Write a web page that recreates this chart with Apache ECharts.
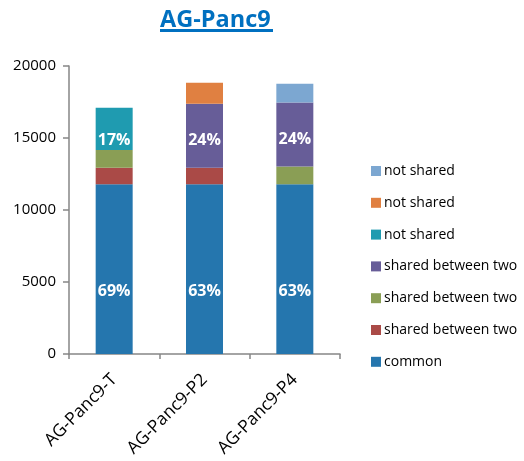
<!DOCTYPE html>
<html>
<head>
<meta charset="utf-8">
<style>
  html, body { margin: 0; padding: 0; background: #fff; }
  #chart { width: 524px; height: 461px; }
</style>
<script src="https://cdn.jsdelivr.net/npm/echarts@6/dist/echarts.min.js"></script>
</head>
<body>
<div id="chart"></div>
<script>
// Samples and the overlap breakdown of their variant counts
const categories = ['AG-Panc9-T', 'AG-Panc9-P2', 'AG-Panc9-P4'];

const common         = [11785, 11785, 11785];
const sharedTP2      = [1150, 1150, 0];
const sharedTP4      = [1240, 0, 1240];
const sharedP2P4     = [0, 4445, 4445];
const notSharedT     = [2920, 0, 0];
const notSharedP2    = [0, 1460, 0];
const notSharedP4    = [0, 0, 1300];

const yTicks = [0, 5000, 10000, 15000, 20000];

// Series in stacking order (bottom to top)
const seriesDefs = [
  { key: 'common', label: 'common', data: common, color: '#2576ae', showPct: true, offset: [0, 22] },
  { key: 'sTP2', label: 'shared between two', data: sharedTP2, color: '#aa4a47', showPct: false },
  { key: 'sTP4', label: 'shared between two', data: sharedTP4, color: '#8a9e55', showPct: false },
  { key: 'sP2P4', label: 'shared between two', data: sharedP2P4, color: '#675d98', showPct: true, offset: [0, 5] },
  { key: 'nT', label: 'not shared', data: notSharedT, color: '#1f9bb0', showPct: true, offset: [0, 12] },
  { key: 'nP2', label: 'not shared', data: notSharedP2, color: '#e08041', showPct: false },
  { key: 'nP4', label: 'not shared', data: notSharedP4, color: '#7ca7d1', showPct: false }
];

const totals = categories.map((_, i) =>
  seriesDefs.reduce((s, d) => s + d.data[i], 0));

const labelOf = {};
seriesDefs.forEach(d => { labelOf[d.key] = d.label; });

const FONT = '"Open Sans", "Noto Sans", sans-serif';

const series = seriesDefs.map(d => ({
  name: d.key,
  type: 'bar',
  stack: 'total',
  barWidth: 37,
  itemStyle: { color: d.color },
  data: d.data.map(v => (v === 0 ? '-' : v)),
  label: {
    show: d.showPct,
    position: 'inside',
    offset: d.offset || [0, 0],
    color: '#fff',
    fontFamily: FONT,
    fontWeight: 'bold',
    fontSize: 16,
    formatter: p => Math.round(p.value / totals[p.dataIndex] * 100) + '%'
  }
}));

const chart = echarts.init(document.getElementById('chart'), null, { renderer: 'canvas' });

chart.setOption({
  animation: false,
  backgroundColor: '#fff',
  title: {
    text: 'AG-Panc9',
    left: 155,
    top: 3,
    textStyle: { color: '#0070c0', fontFamily: FONT, fontWeight: 'bold', fontSize: 23.5 }
  },
  graphic: [{
    type: 'line',
    shape: { x1: 160, y1: 30.5, x2: 273, y2: 30.5 },
    style: { stroke: '#0070c0', lineWidth: 3 }
  }],
  legend: {
    orient: 'vertical',
    left: 371,
    top: 164,
    padding: 0,
    itemWidth: 10,
    itemHeight: 10,
    itemGap: 17.8,
    icon: 'rect',
    data: seriesDefs.map(d => d.key).reverse(),
    formatter: name => labelOf[name],
    textStyle: { color: '#000', fontFamily: FONT, fontSize: 14, lineHeight: 14, padding: [0, 0, 0, -2] }
  },
  grid: { left: 69, right: 184, top: 66, bottom: 107, containLabel: false },
  xAxis: {
    type: 'category',
    data: categories,
    axisLine: { lineStyle: { color: '#868686', width: 1.5 } },
    axisTick: { show: true, length: 5, lineStyle: { color: '#868686', width: 1.5 } },
    axisLabel: { rotate: 45, color: '#000', fontFamily: FONT, fontSize: 17.5, margin: 23, interval: 0 }
  },
  yAxis: {
    type: 'value',
    min: yTicks[0],
    max: yTicks[yTicks.length - 1],
    interval: yTicks[1] - yTicks[0],
    axisLine: { show: true, lineStyle: { color: '#868686', width: 1.5 } },
    axisTick: { show: true, length: 6, lineStyle: { color: '#868686', width: 1.5 } },
    splitLine: { show: false },
    axisLabel: { color: '#000', fontFamily: FONT, fontSize: 15, margin: 13, formatter: v => String(v) }
  },
  series: series
});
</script>
</body>
</html>
